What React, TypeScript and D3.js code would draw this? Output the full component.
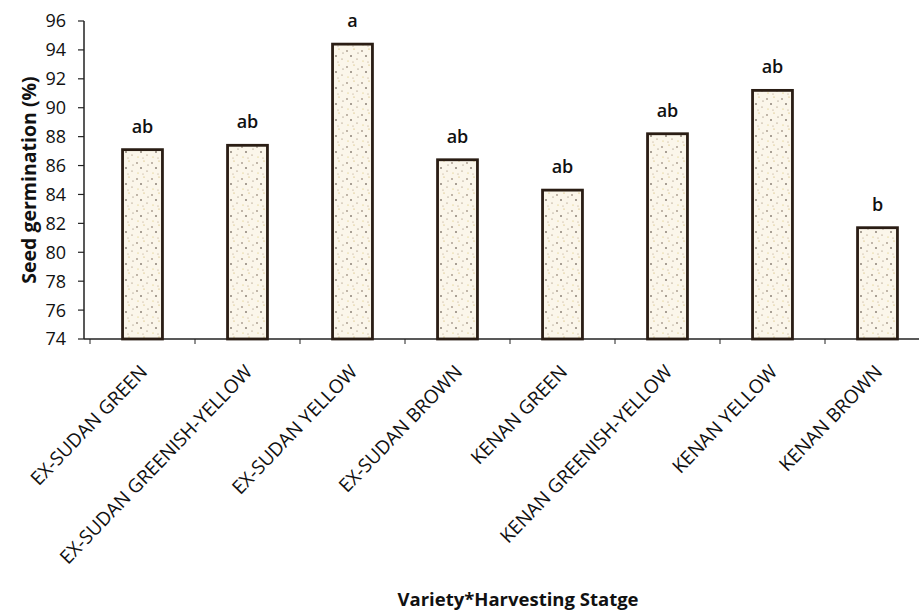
import React from "react";
import * as d3 from "d3";

const categories = [
  "EX-SUDAN GREEN",
  "EX-SUDAN GREENISH-YELLOW",
  "EX-SUDAN YELLOW",
  "EX-SUDAN BROWN",
  "KENAN GREEN",
  "KENAN GREENISH-YELLOW",
  "KENAN YELLOW",
  "KENAN BROWN",
];
const germination = [87.1, 87.4, 94.4, 86.4, 84.3, 88.2, 91.2, 81.7];
const letters = ["ab", "ab", "a", "ab", "ab", "ab", "ab", "b"];
const yTicks = [74, 76, 78, 80, 82, 84, 86, 88, 90, 92, 94, 96];

const W = 919;
const H = 614;
const FONT = "'Open Sans', sans-serif";

export default function App() {
  const x = d3
    .scaleBand<string>()
    .domain(categories)
    .range([90, 930])
    .paddingInner(0.62)
    .paddingOuter(0.31);
  const y = d3.scaleLinear().domain([74, 96]).range([339, 21]);
  const step = x.step();
  const axisX = 84;
  const baseY = y(74);

  const dots: { cx: number; cy: number; r: number; c: string }[] = [
    { cx: 2, cy: 3, r: 0.7, c: "#5a4636" },
    { cx: 9, cy: 1, r: 0.6, c: "#c9a94a" },
    { cx: 6, cy: 8, r: 0.8, c: "#3f3026" },
    { cx: 12, cy: 11, r: 0.6, c: "#8a7255" },
    { cx: 3, cy: 13, r: 0.6, c: "#d9be5c" },
    { cx: 13, cy: 5, r: 0.5, c: "#6b5643" },
    { cx: 8, cy: 14, r: 0.5, c: "#a48868" },
  ];

  return (
    <svg
      width={W}
      height={H}
      style={{ position: "absolute", left: 0, top: 0, background: "#fff" }}
    >
      <defs>
        <pattern id="speckle" width={15} height={16} patternUnits="userSpaceOnUse">
          <rect width={15} height={16} fill="#fbf6ea" />
          {dots.map((d, i) => (
            <circle key={i} cx={d.cx} cy={d.cy} r={d.r} fill={d.c} />
          ))}
        </pattern>
      </defs>

      {/* baseline */}
      <line x1={axisX} x2={W} y1={baseY} y2={baseY} stroke="#222" strokeWidth={1.5} />
      {/* category boundary ticks */}
      {categories.map((c, i) => {
        const bx = (x(c) as number) - step * 0.31;
        return (
          <line key={"bt" + i} x1={bx} x2={bx} y1={baseY} y2={baseY + 5} stroke="#222" strokeWidth={1} />
        );
      })}

      {/* y axis */}
      <line x1={axisX} x2={axisX} y1={y(96)} y2={baseY} stroke="#222" strokeWidth={1.5} />
      {yTicks.map((t) => (
        <g key={"yt" + t}>
          <line x1={axisX - 6} x2={axisX} y1={y(t)} y2={y(t)} stroke="#222" strokeWidth={1.2} />
          <text
            x={axisX - 18}
            y={y(t)}
            dy="0.36em"
            textAnchor="end"
            fontFamily={FONT}
            fontSize={18}
            fill="#111"
          >
            {t}
          </text>
        </g>
      ))}

      {/* bars */}
      {categories.map((c, i) => (
        <rect
          key={"b" + i}
          x={x(c)}
          y={y(germination[i])}
          width={x.bandwidth()}
          height={baseY - y(germination[i])}
          fill="url(#speckle)"
          stroke="#2a1d14"
          strokeWidth={2.8}
        />
      ))}

      {/* significance letters */}
      {categories.map((c, i) => (
        <text
          key={"l" + i}
          x={(x(c) as number) + x.bandwidth() / 2}
          y={y(germination[i]) - 17}
          textAnchor="middle"
          fontFamily={FONT}
          fontSize={18}
          fontWeight={600}
          fill="#111"
        >
          {letters[i]}
        </text>
      ))}

      {/* category labels */}
      {categories.map((c, i) => {
        const cx = (x(c) as number) + x.bandwidth() / 2;
        return (
          <text
            key={"c" + i}
            transform={`translate(${cx + 6},${baseY + 34}) rotate(-46)`}
            textAnchor="end"
            fontFamily={FONT}
            fontSize={19}
            fill="#111"
          >
            {c}
          </text>
        );
      })}

      {/* axis titles */}
      <text
        transform={`translate(36,180) rotate(-90)`}
        textAnchor="middle"
        fontFamily={FONT}
        fontSize={19.5}
        fontWeight={700}
        fill="#111"
      >
        Seed germination (%)
      </text>
      <text
        x={518}
        y={606}
        textAnchor="middle"
        fontFamily={FONT}
        fontSize={18.5}
        fontWeight={700}
        fill="#111"
      >
        Variety*Harvesting Statge
      </text>
    </svg>
  );
}
